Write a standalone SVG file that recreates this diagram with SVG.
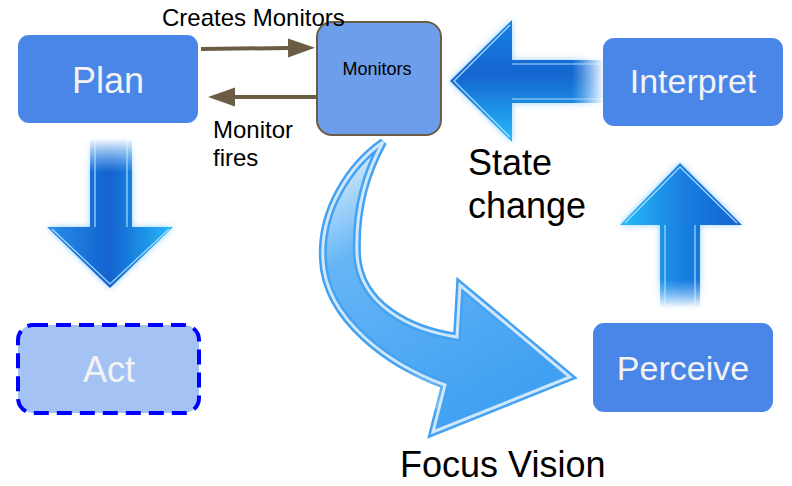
<svg xmlns="http://www.w3.org/2000/svg" width="792" height="486" viewBox="0 0 792 486">
<style>
.box{fill:#4a86e8}
.lbl{font-family:"Liberation Sans",Arial,sans-serif;fill:#f3f3f3;text-anchor:middle}
.txt{font-family:"Liberation Sans",Arial,sans-serif;fill:#000}
.conn{stroke:#6a5d44;stroke-width:4;fill:none}
.hl{stroke:#a8ddff;stroke-width:1.2;fill:none}
</style>
<defs>
<marker id="ah" markerUnits="userSpaceOnUse" markerWidth="28" markerHeight="20" refX="0" refY="10" orient="auto"><path d="M0,0.5 L27,10 L0,19.5 Z" fill="#6a5d44"/></marker>
<filter id="glow" x="-30%" y="-30%" width="160%" height="160%">
<feGaussianBlur in="SourceAlpha" stdDeviation="3" result="b"/>
<feFlood flood-color="#4fb0ff" flood-opacity="0.6"/>
<feComposite in2="b" operator="in" result="g"/>
<feMerge><feMergeNode in="g"/><feMergeNode in="SourceGraphic"/></feMerge>
</filter>
<linearGradient id="gDown" gradientUnits="userSpaceOnUse" x1="47" y1="0" x2="173" y2="0">
<stop offset="0" stop-color="#2a8fe8"/><stop offset="0.5" stop-color="#1262d0"/><stop offset="1" stop-color="#27bcf9"/>
</linearGradient>
<linearGradient id="gUp" gradientUnits="userSpaceOnUse" x1="620" y1="0" x2="742" y2="0">
<stop offset="0" stop-color="#27bcf9"/><stop offset="0.5" stop-color="#1a80e2"/><stop offset="1" stop-color="#1262d0"/>
</linearGradient>
<linearGradient id="gLeft" gradientUnits="userSpaceOnUse" x1="0" y1="20" x2="0" y2="142">
<stop offset="0" stop-color="#1a80e2"/><stop offset="0.45" stop-color="#1565d0"/><stop offset="1" stop-color="#27bcf9"/>
</linearGradient>
<linearGradient id="fDown" gradientUnits="userSpaceOnUse" x1="0" y1="138" x2="0" y2="172">
<stop offset="0" stop-color="#000"/><stop offset="1" stop-color="#fff"/>
</linearGradient>
<linearGradient id="fUp" gradientUnits="userSpaceOnUse" x1="0" y1="308" x2="0" y2="280">
<stop offset="0" stop-color="#000"/><stop offset="1" stop-color="#fff"/>
</linearGradient>
<linearGradient id="fLeft" gradientUnits="userSpaceOnUse" x1="604" y1="0" x2="572" y2="0">
<stop offset="0" stop-color="#000"/><stop offset="1" stop-color="#fff"/>
</linearGradient>
<mask id="mDown" maskUnits="userSpaceOnUse" x="40" y="130" width="140" height="170"><rect x="40" y="130" width="140" height="170" fill="url(#fDown)"/></mask>
<mask id="mUp" maskUnits="userSpaceOnUse" x="610" y="150" width="140" height="170"><rect x="610" y="150" width="140" height="170" fill="url(#fUp)"/></mask>
<mask id="mLeft" maskUnits="userSpaceOnUse" x="440" y="10" width="175" height="140"><rect x="440" y="10" width="175" height="140" fill="url(#fLeft)"/></mask>
<linearGradient id="gCurve" gradientUnits="userSpaceOnUse" x1="370" y1="140" x2="520" y2="400">
<stop offset="0" stop-color="#d8ecfc"/><stop offset="0.3" stop-color="#66b6f6"/><stop offset="1" stop-color="#3f9ff1"/>
</linearGradient>
<linearGradient id="gCurveHi" gradientUnits="userSpaceOnUse" x1="330" y1="420" x2="420" y2="330">
<stop offset="0" stop-color="#ffffff" stop-opacity="0.75"/><stop offset="1" stop-color="#ffffff" stop-opacity="0"/>
</linearGradient>
</defs>

<g id="connectors">
<line class="conn" x1="201" y1="49" x2="288" y2="48" marker-end="url(#ah)"/>
<line class="conn" x1="316" y1="97" x2="235" y2="97" marker-end="url(#ah)"/>

<g id="arrow-plan-act" filter="url(#glow)">
<g mask="url(#mDown)">
<rect x="90" y="140" width="42" height="90" fill="url(#gDown)"/>
<line class="hl" x1="95" y1="140" x2="95" y2="227"/>
<line class="hl" x1="127" y1="140" x2="127" y2="227"/>
</g>
<polygon points="47,227 173,227 110,288" fill="url(#gDown)"/>
<polyline class="hl" points="52,229 110,284 169,229"/>
</g>

<g id="arrow-perceive-interpret" filter="url(#glow)">
<g mask="url(#mUp)">
<rect x="660" y="222" width="40" height="90" fill="url(#gUp)"/>
<line class="hl" x1="665" y1="225" x2="665" y2="310"/>
<line class="hl" x1="695" y1="225" x2="695" y2="310"/>
</g>
<polygon points="620,225 742,225 680,163" fill="url(#gUp)"/>
<polyline class="hl" points="625,223 680,167 737,223"/>
</g>

<g id="arrow-interpret-monitors" filter="url(#glow)">
<g mask="url(#mLeft)">
<rect x="509" y="60" width="95" height="43" fill="url(#gLeft)"/>
<line class="hl" x1="512" y1="64" x2="603" y2="64"/>
<line class="hl" x1="512" y1="99" x2="603" y2="99"/>
</g>
<polygon points="450,81 512,20 512,142" fill="url(#gLeft)"/>
<polyline class="hl" points="510,25 454,81 510,137"/>
</g>

<g id="arrow-monitors-perceive">
<path d="M383,142 C350,165 320,210 323,260 C326,320 390,365 445,385 L433,432 L570,377 L460,285 L457,337 C410,330 360,305 357,255 C355,205 368,170 383,142 Z" fill="url(#gCurve)" stroke="#45a2f2" stroke-width="8" stroke-linejoin="miter"/>
<path d="M330,300 C345,340 390,370 445,385 L440,410 C390,395 345,360 330,300 Z" fill="url(#gCurveHi)"/>
<path d="M383,142 C350,165 320,210 323,260 C326,320 390,365 445,385 L433,432 L570,377 L460,285 L457,337 C410,330 360,305 357,255 C355,205 368,170 383,142 Z" fill="none" stroke="#e6f3fd" stroke-width="3" stroke-opacity="0.85"/>
</g>
</g>

<g id="plan">
<rect class="box" x="18" y="35" width="180" height="88" rx="11"/>
<text class="lbl" x="108" y="93" font-size="36">Plan</text>
</g>
<g id="monitors">
<rect x="317" y="22" width="124" height="113" rx="15" fill="#6d9eeb" stroke="#6a5d44" stroke-width="2"/>
<text class="txt" x="377" y="75" font-size="18" text-anchor="middle">Monitors</text>
</g>
<g id="interpret">
<rect class="box" x="603" y="38" width="180" height="88" rx="11"/>
<text class="lbl" x="693" y="93" font-size="34">Interpret</text>
</g>
<g id="perceive">
<rect class="box" x="593" y="323" width="180" height="89" rx="11"/>
<text class="lbl" x="683" y="380" font-size="34">Perceive</text>
</g>
<g id="act">
<rect x="18" y="325" width="181" height="88" rx="15" fill="#a4c2f4" stroke="#0000ff" stroke-width="4" stroke-dasharray="15 8"/>
<text class="lbl" x="109" y="382" font-size="36">Act</text>
</g>

<g id="labels">
<text class="txt" x="162" y="26" font-size="24">Creates Monitors</text>
<text class="txt" x="213" y="138" font-size="24">Monitor</text>
<text class="txt" x="213" y="166" font-size="24">fires</text>
<text class="txt" x="468" y="175" font-size="36">State</text>
<text class="txt" x="468" y="218" font-size="36">change</text>
<text class="txt" x="400" y="477" font-size="36">Focus Vision</text>
</g>
</svg>
